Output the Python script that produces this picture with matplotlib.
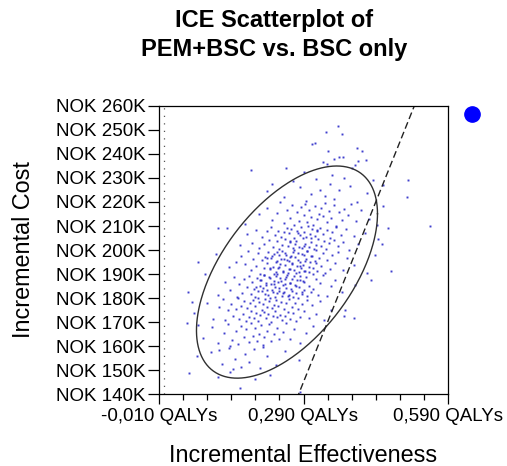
import numpy as np
import matplotlib
matplotlib.use('Agg')
import matplotlib.pyplot as plt
from matplotlib.lines import Line2D

plt.rcParams['font.family'] = ['Liberation Sans', 'DejaVu Sans']

# Simulated incremental outcomes, grouped in 10K cost bands
# effect in QALYs, cost in thousand NOK
eff_140 = [0.158, 0.112, 0.052, 0.190, 0.137, 0.221, 0.283]
cost_140 = [142.7, 147.0, 148.7, 146.3, 149.2, 148.1, 140.8]

eff_150 = [0.098, 0.121, 0.135, 0.148, 0.160, 0.168, 0.176, 0.187, 0.199, 0.214,
           0.232, 0.252, 0.281, 0.143, 0.205, 0.115, 0.069]
cost_150 = [157.3, 152.6, 159.1, 154.4, 151.2, 156.8, 153.5, 158.6, 150.9, 155.7,
            152.1, 157.9, 154.0, 150.4, 159.5, 158.4, 155.8]

eff_160 = [0.082, 0.101, 0.112, 0.124, 0.133, 0.141, 0.149, 0.155, 0.161, 0.166,
           0.171, 0.176, 0.181, 0.185, 0.189, 0.193, 0.197, 0.201, 0.205, 0.209,
           0.214, 0.218, 0.223, 0.228, 0.234, 0.240, 0.247, 0.254, 0.262, 0.271,
           0.283, 0.296, 0.309, 0.072, 0.048, 0.137]
cost_160 = [163.4, 167.9, 161.2, 165.6, 169.3, 162.7, 166.1, 160.8, 168.4, 163.9,
            166.9, 161.6, 169.7, 164.2, 167.3, 162.1, 165.0, 168.8, 160.5, 163.6,
            166.4, 169.0, 161.9, 164.8, 167.6, 162.9, 165.9, 169.5, 163.0, 167.1,
            161.4, 165.3, 168.2, 168.6, 169.6, 160.2]

eff_170 = [0.062, 0.089, 0.103, 0.114, 0.122, 0.128, 0.134, 0.139, 0.144, 0.149,
           0.153, 0.157, 0.160, 0.164, 0.167, 0.170, 0.173, 0.176, 0.179, 0.182,
           0.185, 0.187, 0.190, 0.192, 0.195, 0.198, 0.200, 0.203, 0.205, 0.207,
           0.210, 0.212, 0.214, 0.217, 0.219, 0.222, 0.224, 0.226, 0.229, 0.231,
           0.233, 0.236, 0.238, 0.241, 0.244, 0.246, 0.249, 0.251, 0.254, 0.257,
           0.260, 0.263, 0.266, 0.269, 0.272, 0.275, 0.279, 0.283, 0.287, 0.292,
           0.297, 0.302, 0.308, 0.315, 0.324, 0.333, 0.347, 0.374]
cost_170 = [173.7, 178.1, 171.4, 176.2, 179.5, 170.8, 174.9, 177.3, 172.6, 175.4,
            179.9, 171.1, 176.8, 173.2, 178.6, 170.3, 175.7, 172.2, 177.9, 174.4,
            179.1, 171.8, 176.5, 173.9, 170.6, 178.3, 172.9, 175.1, 177.6, 174.0,
            179.7, 171.5, 176.1, 173.4, 178.8, 170.1, 175.9, 172.4, 177.1, 174.7,
            179.3, 171.9, 176.6, 173.0, 178.4, 170.9, 175.3, 172.7, 177.8, 174.2,
            179.6, 171.2, 176.3, 173.6, 178.0, 170.4, 175.6, 172.0, 177.4, 174.5,
            179.0, 171.6, 176.9, 173.3, 178.7, 170.7, 175.0, 172.5]

eff_180 = [0.085, 0.112, 0.126, 0.137, 0.145, 0.151, 0.157, 0.162, 0.167, 0.172,
           0.176, 0.180, 0.183, 0.187, 0.190, 0.193, 0.196, 0.199, 0.202, 0.205,
           0.208, 0.210, 0.213, 0.215, 0.218, 0.221, 0.223, 0.226, 0.228, 0.230,
           0.233, 0.235, 0.237, 0.240, 0.242, 0.245, 0.247, 0.249, 0.252, 0.254,
           0.256, 0.259, 0.261, 0.264, 0.267, 0.269, 0.272, 0.274, 0.277, 0.280,
           0.283, 0.286, 0.289, 0.292, 0.295, 0.298, 0.302, 0.306, 0.310, 0.315,
           0.320, 0.325, 0.331, 0.338, 0.347, 0.356, 0.370, 0.397,
           0.191, 0.196, 0.200, 0.204, 0.208, 0.212, 0.216, 0.220, 0.224, 0.228,
           0.231, 0.235, 0.239, 0.243, 0.247, 0.251, 0.254, 0.258, 0.262, 0.266,
           0.270, 0.274, 0.278, 0.282, 0.286, 0.291]
cost_180 = [189.9, 181.1, 186.8, 183.2, 188.6, 180.3, 185.7, 182.2, 187.9, 184.4,
            189.1, 181.8, 186.5, 183.9, 180.6, 188.3, 182.9, 185.1, 187.6, 184.0,
            189.7, 181.5, 186.1, 183.4, 188.8, 180.1, 185.9, 182.4, 187.1, 184.7,
            189.3, 181.9, 186.6, 183.0, 188.4, 180.9, 185.3, 182.7, 187.8, 184.2,
            189.6, 181.2, 186.3, 183.6, 188.0, 180.4, 185.6, 182.0, 187.4, 184.5,
            189.0, 181.6, 186.9, 183.3, 188.7, 180.7, 185.0, 182.5, 183.7, 188.1,
            181.4, 186.2, 189.5, 180.8, 184.9, 187.3, 182.6, 185.4,
            184.6, 180.2, 187.7, 182.8, 189.4, 185.5, 181.3, 188.2, 183.5, 186.0,
            180.5, 189.8, 184.1, 187.0, 182.1, 185.8, 188.9, 181.0, 186.4, 183.1,
            189.2, 184.8, 180.0, 187.5, 182.3, 186.7]

eff_190 = [0.109, 0.136, 0.150, 0.161, 0.169, 0.175, 0.181, 0.186, 0.191, 0.196,
           0.200, 0.204, 0.207, 0.211, 0.214, 0.217, 0.220, 0.223, 0.226, 0.229,
           0.232, 0.234, 0.237, 0.239, 0.242, 0.245, 0.247, 0.250, 0.252, 0.254,
           0.257, 0.259, 0.261, 0.264, 0.266, 0.269, 0.271, 0.273, 0.276, 0.278,
           0.280, 0.283, 0.285, 0.288, 0.291, 0.293, 0.296, 0.298, 0.301, 0.304,
           0.307, 0.310, 0.313, 0.316, 0.319, 0.322, 0.326, 0.330, 0.334, 0.339,
           0.344, 0.349, 0.355, 0.362, 0.371, 0.380, 0.394, 0.421,
           0.215, 0.220, 0.224, 0.228, 0.232, 0.236, 0.240, 0.244, 0.248, 0.252,
           0.255, 0.259, 0.263, 0.267, 0.271, 0.275, 0.278, 0.282, 0.286, 0.290,
           0.294, 0.298, 0.302, 0.306, 0.310, 0.315]
cost_190 = [198.3, 192.9, 195.1, 197.6, 194.0, 199.7, 191.5, 196.1, 193.4, 198.8,
            190.1, 195.9, 192.4, 197.1, 194.7, 199.3, 191.9, 196.6, 193.0, 198.4,
            190.9, 195.3, 192.7, 197.8, 194.2, 199.6, 191.2, 196.3, 193.6, 198.0,
            190.4, 195.6, 192.0, 197.4, 194.5, 199.0, 191.6, 196.9, 193.3, 198.7,
            190.7, 195.0, 192.5, 193.7, 198.1, 191.4, 196.2, 199.5, 190.8, 194.9,
            197.3, 192.6, 195.4, 199.9, 191.1, 196.8, 193.2, 198.6, 190.3, 195.7,
            192.2, 197.9, 194.4, 199.1, 191.8, 196.5, 193.9, 190.6,
            196.7, 192.3, 197.5, 190.0, 194.8, 199.2, 193.1, 196.4, 191.0, 198.9,
            195.8, 192.1, 197.0, 194.1, 199.8, 190.5, 196.0, 193.5, 198.2, 191.3,
            195.5, 199.4, 192.8, 197.7, 190.2, 194.6]

eff_200 = [0.132, 0.159, 0.173, 0.184, 0.192, 0.198, 0.204, 0.209, 0.214, 0.219,
           0.223, 0.227, 0.230, 0.234, 0.237, 0.240, 0.243, 0.246, 0.249, 0.252,
           0.255, 0.257, 0.260, 0.262, 0.265, 0.268, 0.270, 0.273, 0.275, 0.277,
           0.280, 0.282, 0.284, 0.287, 0.289, 0.292, 0.294, 0.296, 0.299, 0.301,
           0.303, 0.306, 0.308, 0.311, 0.314, 0.316, 0.319, 0.321, 0.324, 0.327,
           0.330, 0.333, 0.336, 0.339, 0.342, 0.345, 0.349, 0.353, 0.357, 0.362,
           0.367, 0.372, 0.378, 0.385, 0.394, 0.403, 0.417, 0.444,
           0.262, 0.279, 0.291, 0.305, 0.318]
cost_200 = [209.3, 201.9, 206.6, 203.0, 208.4, 200.9, 205.3, 202.7, 207.8, 204.2,
            209.6, 201.2, 206.3, 203.6, 208.0, 200.4, 205.6, 202.0, 207.4, 204.5,
            209.0, 201.6, 206.9, 203.3, 208.7, 200.7, 205.0, 202.5, 203.7, 208.1,
            201.4, 206.2, 209.5, 200.8, 204.9, 207.3, 202.6, 205.4, 209.9, 201.1,
            206.8, 203.2, 208.6, 200.3, 205.7, 202.2, 207.9, 204.4, 209.1, 201.8,
            206.5, 203.9, 200.6, 208.3, 202.9, 205.1, 207.6, 204.0, 209.7, 201.5,
            206.1, 203.4, 208.8, 200.1, 205.9, 202.4, 207.1, 204.7,
            203.8, 207.2, 201.7, 205.2, 208.5]

eff_210 = [0.169, 0.198, 0.214, 0.225, 0.235, 0.242, 0.249, 0.255, 0.261, 0.267,
           0.271, 0.276, 0.281, 0.285, 0.290, 0.294, 0.298, 0.302, 0.306, 0.310,
           0.314, 0.318, 0.322, 0.326, 0.330, 0.334, 0.339, 0.343, 0.348, 0.353,
           0.357, 0.363, 0.369, 0.375, 0.382, 0.389, 0.399, 0.410, 0.426, 0.455]
cost_210 = [210.8, 214.9, 217.3, 212.6, 215.4, 219.9, 211.1, 216.8, 213.2, 218.6,
            210.3, 215.7, 212.2, 217.9, 214.4, 219.1, 211.8, 216.5, 213.9, 210.6,
            218.3, 212.9, 215.1, 217.6, 214.0, 219.7, 211.5, 216.1, 213.4, 218.8,
            210.1, 215.9, 212.4, 217.1, 214.7, 219.3, 211.9, 216.6, 213.0, 218.4]

eff_220 = [0.214, 0.249, 0.268, 0.283, 0.295, 0.306, 0.316, 0.325, 0.335, 0.345,
           0.354, 0.364, 0.375, 0.387, 0.402, 0.421, 0.456]
cost_220 = [224.4, 221.9, 228.7, 226.1, 220.6, 223.3, 229.4, 225.2, 222.7, 227.6,
            221.2, 224.9, 229.9, 226.8, 220.2, 223.8, 227.1]

eff_230 = [0.290, 0.330, 0.350, 0.372, 0.390, 0.420]
cost_230 = [232.5, 236.8, 231.1, 238.9, 234.0, 237.4]

# points lying clearly outside the ellipse
eff_out = [0.362, 0.337, 0.370, 0.314, 0.401, 0.411, 0.341, 0.353, 0.364, 0.403,
           0.339, 0.397, 0.507, 0.505, 0.553, 0.465, 0.453, 0.434, 0.443, 0.472,
           0.430, 0.395, 0.438, 0.376, 0.050, 0.059, 0.071, 0.113, 0.181, 0.225,
           0.254, 0.308]
cost_out = [251.7, 249.2, 248.3, 244.6, 242.5, 241.3, 241.3, 237.9, 238.7, 237.0,
            235.8, 235.4, 229.2, 222.1, 210.0, 209.2, 202.5, 229.0, 210.4, 191.3,
            187.5, 171.5, 197.9, 175.0, 182.5, 178.3, 195.0, 209.0, 233.3, 227.5,
            234.0, 244.0]

# confidence ellipse (centre, half extents, correlation) and willingness-to-pay
ell_center = (0.2557, 190.8)
ell_half = (0.1879, 44.2)
ell_rho = 0.55
wtp_k_per_qaly = 500.0

cost_ticks = [140, 150, 160, 170, 180, 190, 200, 210, 220, 230, 240, 250, 260]
eff_major = [-0.01, 0.29, 0.59]
eff_labels = ['-0,010 QALYs', '0,290 QALYs', '0,590 QALYs']
eff_minor = [-0.01, 0.04, 0.09, 0.14, 0.19, 0.24, 0.29, 0.34, 0.39, 0.44, 0.49, 0.54, 0.59]

effs = eff_140 + eff_150 + eff_160 + eff_170 + eff_180 + eff_190 + eff_200 + eff_210 + eff_220 + eff_230 + eff_out
costs = cost_140 + cost_150 + cost_160 + cost_170 + cost_180 + cost_190 + cost_200 + cost_210 + cost_220 + cost_230 + cost_out
assert len(effs) == len(costs), (len(effs), len(costs))

fig = plt.figure(figsize=(5.07, 4.66), dpi=100)
ax = fig.add_axes([159 / 507, 1 - 394 / 466, (448 - 159) / 507, (394 - 106) / 466])

ax.plot(effs, costs, ls='', marker='s', ms=1.4, mew=0, color='#2a2ac8', alpha=0.9)

t = np.linspace(0, 2 * np.pi, 400)
ex = ell_center[0] + ell_half[0] * np.cos(t)
ey = ell_center[1] + ell_half[1] * (ell_rho * np.cos(t) + np.sqrt(1 - ell_rho ** 2) * np.sin(t))
ax.plot(ex, ey, color='#303030', lw=1.0)

xs = np.array([0.0, 0.6])
ax.plot(xs, wtp_k_per_qaly * xs, color='#222222', lw=1.0, ls=(0, (5, 2.5)))
ax.axvline(0, color='#555555', lw=0.9, ls=(0, (1, 5)))

ax.set_xlim(-0.01, 0.59)
ax.set_ylim(140, 260)
ax.set_yticks(cost_ticks)
ax.set_yticklabels([f'NOK {c}K' for c in cost_ticks])
ax.set_xticks(eff_major)
ax.set_xticklabels(eff_labels)
ax.set_xticks(eff_minor, minor=True)
ax.tick_params(axis='y', length=8, width=0.9, pad=1.5, labelsize=13.5)
ax.tick_params(axis='x', which='major', length=7.5, width=0.9, pad=2.5, labelsize=13.5)
ax.tick_params(axis='x', which='minor', length=4, width=0.9)
for s in ax.spines.values():
    s.set_linewidth(0.9)

ax.set_xlabel('Incremental Effectiveness', fontsize=16.8)
ax.xaxis.set_label_coords(0.5, -0.175)
ax.set_ylabel('Incremental Cost', fontsize=16.8)
ax.yaxis.set_label_coords(-0.43, 0.5)

fig.text(274 / 507, 1 - 9 / 466, 'ICE Scatterplot of\nPEM+BSC vs. BSC only',
         ha='center', va='top', fontsize=17, fontweight='bold', linespacing=1.35)

dot = Line2D([], [], ls='', marker='o', ms=11, color='#0000ff')
fig.legend(handles=[dot], labels=[''], loc='center', bbox_to_anchor=(472 / 507, 1 - 115 / 466),
           frameon=False, handlelength=1.0, handletextpad=0, borderpad=0, borderaxespad=0)

fig.savefig('out.png', dpi=100)
